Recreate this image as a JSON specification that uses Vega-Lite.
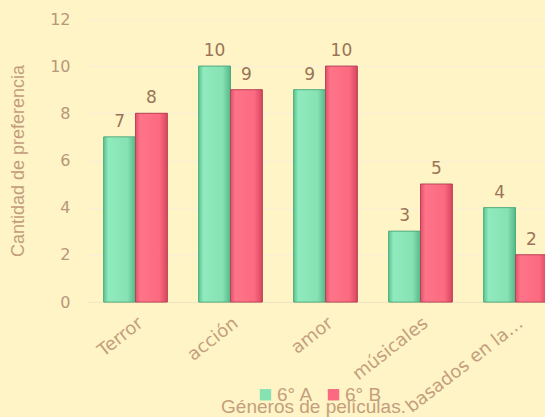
{
  "$schema": "https://vega.github.io/schema/vega-lite/v6.json",
  "width": 475,
  "height": 283,
  "autosize": {"type": "none"},
  "padding": {"left": 88, "top": 19, "right": 0, "bottom": 115},
  "background": "#FEF4C6",
  "config": {"view": {"stroke": null}, "font": "Liberation Sans"},
  "data": {
    "values": [
      {"genero": "Terror", "grupo": "6° A", "valor": 7},
      {"genero": "Terror", "grupo": "6° B", "valor": 8},
      {"genero": "acción", "grupo": "6° A", "valor": 10},
      {"genero": "acción", "grupo": "6° B", "valor": 9},
      {"genero": "amor", "grupo": "6° A", "valor": 9},
      {"genero": "amor", "grupo": "6° B", "valor": 10},
      {"genero": "músicales", "grupo": "6° A", "valor": 3},
      {"genero": "músicales", "grupo": "6° B", "valor": 5},
      {"genero": "basados en la…", "grupo": "6° A", "valor": 4},
      {"genero": "basados en la…", "grupo": "6° B", "valor": 2}
    ]
  },
  "encoding": {
    "x": {
      "field": "genero",
      "type": "nominal",
      "sort": null,
      "scale": {"paddingInner": 0.33, "paddingOuter": 0.165},
      "axis": {
        "title": "Géneros de películas.",
        "titleFont": "Liberation Sans",
        "titleFontSize": 19,
        "titleFontWeight": "normal",
        "titleColor": "#C49E7C",
        "titleX": 225,
        "titleY": 104,
        "titleAnchor": "middle",
        "titleAlign": "center",
        "titleBaseline": "middle",
        "labelAngle": -38,
        "labelFont": "DejaVu Sans",
        "labelFontSize": 18,
        "labelColor": "#C49E7C",
        "labelPadding": 12,
        "labelLimit": 0,
        "ticks": false,
        "domain": true,
        "domainColor": "#F4E6BC",
        "grid": false
      }
    },
    "xOffset": {"field": "grupo", "type": "nominal"},
    "y": {
      "field": "valor",
      "type": "quantitative",
      "scale": {"domain": [0, 12]},
      "axis": {
        "title": "Cantidad de preferencia",
        "titleFont": "Liberation Sans",
        "titleFontSize": 18,
        "titleFontWeight": "normal",
        "titleColor": "#C49E7C",
        "titlePadding": 22,
        "values": [0, 2, 4, 6, 8, 10, 12],
        "labelFont": "DejaVu Sans",
        "labelFontSize": 16,
        "labelColor": "#B8977A",
        "labelPadding": 18,
        "ticks": false,
        "domain": false,
        "grid": true,
        "gridColor": "#FBF0D4",
        "gridWidth": 1.5
      }
    }
  },
  "layer": [
    {
      "mark": {"type": "bar", "strokeWidth": 1, "strokeOpacity": 0.6},
      "encoding": {
        "color": {
          "field": "grupo",
          "type": "nominal",
          "scale": {"domain": ["6° A", "6° B"], "range": ["#86E2B3", "#FB6A80"]},
          "legend": {
            "title": null,
            "orient": "none",
            "direction": "horizontal",
            "legendX": 168,
            "legendY": 366,
            "symbolType": "square",
            "symbolSize": 130,
            "symbolStrokeWidth": 0,
            "labelFontSize": 19,
            "labelColor": "#C49E7C",
            "columnPadding": 10,
            "labelOffset": 2
          }
        },
        "stroke": {
          "field": "grupo",
          "type": "nominal",
          "scale": {"domain": ["6° A", "6° B"], "range": ["#3E9E70", "#A8344A"]},
          "legend": null
        }
      }
    },
    {
      "transform": [{"filter": "datum.grupo === '6° A'"}],
      "mark": {
        "type": "bar",
        "stroke": "#3E9E70",
        "strokeWidth": 1,
        "strokeOpacity": 0.6,
        "fill": {
          "gradient": "linear",
          "x1": 0, "y1": 0, "x2": 1, "y2": 0,
          "stops": [
            {"offset": 0, "color": "#5DC592"},
            {"offset": 0.15, "color": "#8FEABD"},
            {"offset": 0.75, "color": "#86E2B3"},
            {"offset": 1, "color": "#55B888"}
          ]
        }
      }
    },
    {
      "transform": [{"filter": "datum.grupo === '6° B'"}],
      "mark": {
        "type": "bar",
        "stroke": "#A8344A",
        "strokeWidth": 1,
        "strokeOpacity": 0.6,
        "fill": {
          "gradient": "linear",
          "x1": 0, "y1": 0, "x2": 1, "y2": 0,
          "stops": [
            {"offset": 0, "color": "#E2506A"},
            {"offset": 0.15, "color": "#FF7489"},
            {"offset": 0.75, "color": "#FB6A80"},
            {"offset": 1, "color": "#D9475F"}
          ]
        }
      }
    },
    {
      "mark": {"type": "text", "baseline": "alphabetic", "dy": -10, "font": "DejaVu Sans", "fontSize": 17, "color": "#9A7456"},
      "encoding": {"text": {"field": "valor", "type": "quantitative"}}
    }
  ]
}
